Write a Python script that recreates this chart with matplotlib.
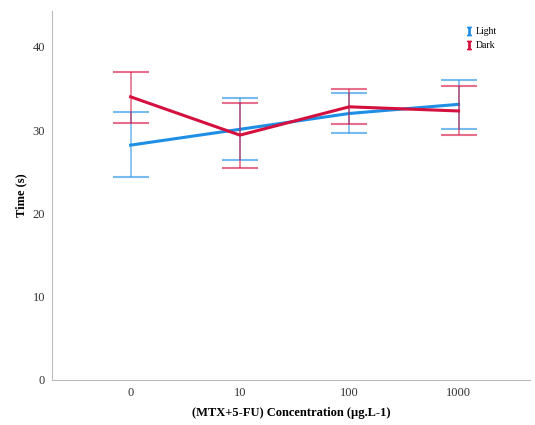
import numpy as np
import matplotlib as mpl
mpl.use("Agg")
import matplotlib.pyplot as plt
from matplotlib.lines import Line2D

plt.rcParams['font.family'] = ['Liberation Serif', 'DejaVu Serif']
plt.rcParams['mathtext.fontset'] = 'stix'

# data
conc = ['0', '10', '100', '1000']
light_mean = [28.2, 30.1, 32.0, 33.1]
light_low = [24.4, 26.4, 29.6, 30.1]
light_high = [32.2, 33.8, 34.4, 36.0]
dark_mean = [34.0, 29.4, 32.8, 32.3]
dark_low = [30.9, 25.5, 30.7, 29.4]
dark_high = [37.0, 33.3, 34.9, 35.3]

blue = '#1F8FE5'
red = '#D4103F'

fig = plt.figure(figsize=(5.35, 4.25), dpi=100)
ax = fig.add_axes([0.097, 0.106, 0.893, 0.868])

x = np.arange(len(conc))
for mean, low, high, col, lab in [(light_mean, light_low, light_high, blue, 'Light'),
                                  (dark_mean, dark_low, dark_high, red, 'Dark')]:
    mean = np.array(mean)
    yerr = [mean - np.array(low), np.array(high) - mean]
    ax.errorbar(x, mean, yerr=yerr, fmt='none', ecolor=col, alpha=0.6,
                elinewidth=1.2, capsize=13, capthick=1.5)
    ax.plot(x, mean, color=col, lw=2.2, label=lab)

ax.set_xlim(-0.72, 3.65)
ax.set_ylim(0, 44.3)
ax.set_yticks([0, 10, 20, 30, 40])
ax.set_xticks(x)
ax.set_xticklabels(conc)
ax.tick_params(length=0, labelsize=9, colors='#333333')
ax.tick_params(axis='x', pad=5)
ax.tick_params(axis='y', pad=5)
for s in ['top', 'right']:
    ax.spines[s].set_visible(False)
for s in ['left', 'bottom']:
    ax.spines[s].set_color('#bbbbbb')

ax.set_ylabel('Time (s)', fontweight='bold', fontsize=9)
ax.set_xlabel('(MTX+5-FU) Concentration (µg.L-1)', fontweight='bold', fontsize=9, labelpad=6)

handles = [Line2D([], [], color=blue, marker='$\\mathrm{I}$', ls='none', markersize=6),
           Line2D([], [], color=red, marker='$\\mathrm{I}$', ls='none', markersize=6)]
ax.legend(handles, ['Light', 'Dark'], loc='upper right', bbox_to_anchor=(0.95, 0.98),
          frameon=False, fontsize=7, handletextpad=0.2, labelspacing=0.5, handlelength=1)

plt.savefig('out.png', dpi=100)
